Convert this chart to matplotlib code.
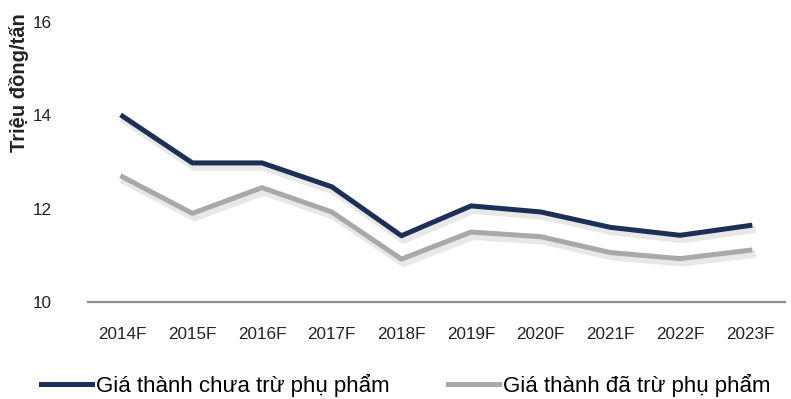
import matplotlib
matplotlib.use("Agg")
import matplotlib.pyplot as plt
import matplotlib.patheffects as pe
from matplotlib.lines import Line2D

plt.rcParams['font.family'] = ['Liberation Sans', 'DejaVu Sans']

years = ["2014F", "2015F", "2016F", "2017F", "2018F",
         "2019F", "2020F", "2021F", "2022F", "2023F"]
gross_cost = [13.98, 12.98, 12.98, 12.47, 11.42, 12.06, 11.93, 11.60, 11.43, 11.64]
net_cost = [12.68, 11.90, 12.45, 11.93, 10.92, 11.50, 11.40, 11.06, 10.93, 11.11]
series_names = ["Giá thành chưa trừ phụ phẩm", "Giá thành đã trừ phụ phẩm"]
series_colors = ['#1c2f57', '#a9a9a9']
y_ticks = [10, 12, 14, 16]

fig = plt.figure(figsize=(7.91, 3.99), dpi=100)
ax = fig.add_axes([0.111, 0.243, 0.881, 0.702])

shadow = [pe.SimpleLineShadow(offset=(1.5, -3), shadow_color='#909090', alpha=0.2,
                              linewidth=5.5),
          pe.Normal()]
x = range(len(years))
for vals, col in zip([gross_cost, net_cost], series_colors):
    ax.plot(x, vals, color=col, lw=3.6, path_effects=shadow)

ax.set_xlim(-0.5, len(years) - 0.5)
ax.set_ylim(10, 16)
ax.set_yticks(y_ticks)
ax.set_xticks(list(x))
ax.set_xticklabels(years)
for s in ['top', 'right', 'left']:
    ax.spines[s].set_visible(False)
ax.spines['bottom'].set_color('#8c8c8c')
ax.spines['bottom'].set_linewidth(1.6)
ax.tick_params(axis='both', length=0, labelsize=12.3, colors='#222222')
ax.tick_params(axis='y', pad=26)
ax.tick_params(axis='x', pad=18)

fig.text(0.024, 0.794, "Triệu đồng/tấn", rotation=90, ha='center', va='center',
         fontsize=14.5, fontweight='bold', color='#222222')

handles = [Line2D([], [], color=c, lw=3.6) for c in series_colors]
fig.legend(handles, series_names, loc='center', bbox_to_anchor=(0.513, 0.035),
           ncol=2, frameon=False, fontsize=16, handlelength=2.3,
           handletextpad=0.2, columnspacing=2.6)

fig.savefig("out.png", dpi=100)
